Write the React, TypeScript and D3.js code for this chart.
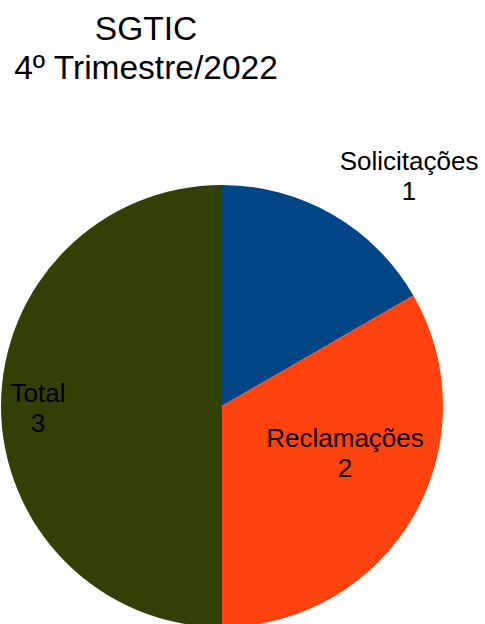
import React from "react";
import * as d3 from "d3";

const categories = ["Solicitações", "Reclamações", "Total"];
const values = [1, 2, 3];
const colors = ["#004586", "#ff420e", "#314004"];
const titleLines = ["SGTIC", "4º Trimestre/2022"];

// label anchor (center of first line) relative to pie center
const labelPos: [number, number][] = [
  [187, -236],
  [123, 41],
  [-184, -4],
];

const W = 485;
const H = 624;

const App: React.FC = () => {
  const cx = 222;
  const cy = 406;
  const r = 221;

  const pie = d3
    .pie<number>()
    .sort(null)
    .value((d) => d);
  const arcs = pie(values);
  const arc = d3.arc<d3.PieArcDatum<number>>().innerRadius(0).outerRadius(r);

  return (
    <svg
      width={W}
      height={H}
      style={{ position: "absolute", left: 0, top: 0, background: "#fff" }}
      fontFamily="'Liberation Sans', Arial, sans-serif"
    >
      <g>
        {titleLines.map((t, i) => (
          <text key={i} x={146} y={40 + i * 39} textAnchor="middle" fontSize={33.5} fill="#000">
            {t}
          </text>
        ))}
      </g>
      <g transform={`translate(${cx},${cy})`}>
        {arcs.map((a, i) => (
          <path key={i} d={arc(a) || ""} fill={colors[i]} />
        ))}
        {arcs.map((a, i) => (
          <text
            key={"l" + i}
            transform={`translate(${labelPos[i][0]},${labelPos[i][1]})`}
            textAnchor="middle"
            fontSize={26}
            fill="#000"
          >
            <tspan x={0} y={0}>{categories[i]}</tspan>
            <tspan x={0} dy={30}>{a.data}</tspan>
          </text>
        ))}
      </g>
    </svg>
  );
};

export default App;
